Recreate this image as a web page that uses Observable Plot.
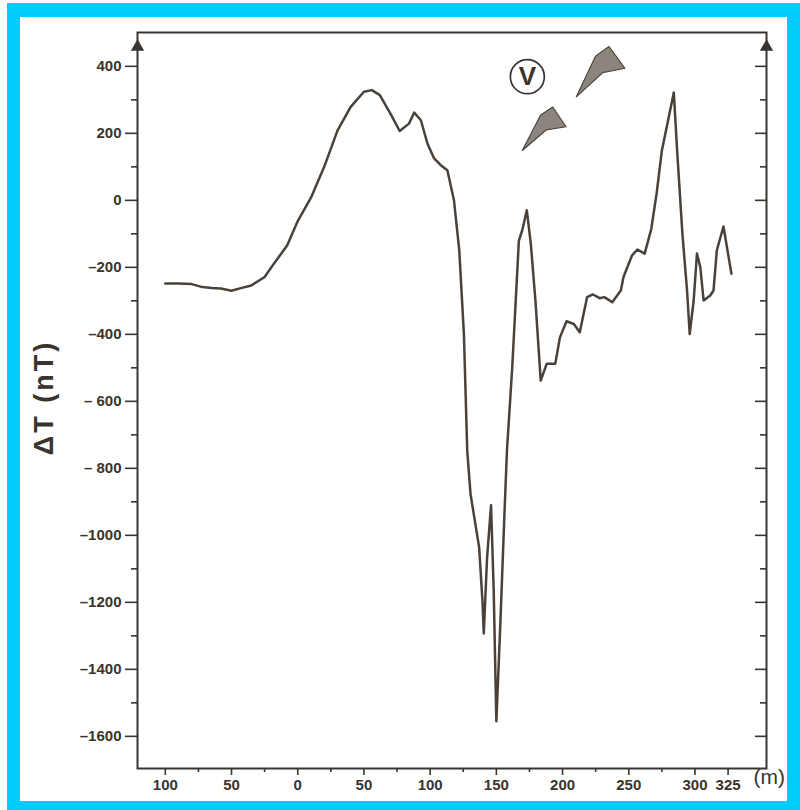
<!DOCTYPE html>
<html>
<head>
<meta charset="utf-8">
<script src="https://cdn.jsdelivr.net/npm/d3@7"></script>
<script src="https://cdn.jsdelivr.net/npm/@observablehq/plot@0.6"></script>
<style>
  html, body { margin: 0; padding: 0; background: #fff; }
  #wrap { position: relative; width: 800px; height: 810px; overflow: hidden; background: #fff; }
  #chart { position: absolute; left: 0; top: 0; }
  .band { position: absolute; background: #00cdfe; z-index: 2; }
</style>
</head>
<body>
<div id="wrap">
  <div id="chart"></div>
  <div class="band" style="left:7px;top:3px;width:793px;height:14px;"></div>
  <div class="band" style="left:7px;top:3px;width:13px;height:807px;"></div>
  <div class="band" style="left:7px;top:801px;width:793px;height:9px;"></div>
  <div class="band" style="left:787px;top:3px;width:13px;height:807px;"></div>
</div>
<script>
// ---- data ----
const dist = [-100, -90, -80, -72, -65, -58, -50, -43, -35, -25, -18, -8, 0, 10, 20, 30, 40, 50, 56, 62, 70, 77, 84, 88, 93, 98, 103, 108, 113, 118, 122, 125.5, 128, 130.5, 137, 139.5, 140.5, 143, 146, 148, 150, 153, 156, 158, 162, 167, 169.5, 173, 176, 179.5, 183.5, 188, 194.5, 198, 203, 208.5, 213, 218.5, 223, 228, 231.5, 237.5, 244, 246, 252.5, 256.5, 262, 267, 271, 275, 284, 286.5, 290.5, 294, 296, 299, 301.5, 304, 306.5, 311.5, 314, 316.5, 321.5, 327.5];
const deltaT = [-248, -248, -250, -259, -262, -263, -270, -262, -254, -229, -189, -135, -62, 8, 100, 208, 279, 324, 329, 314, 259, 207, 229, 262, 239, 169, 125, 105, 90, 0, -150, -400, -747, -877, -1036, -1196, -1293, -1066, -910, -1166, -1555, -1265, -947, -747, -498, -120, -90, -30, -129, -299, -538, -488, -488, -409, -361, -369, -394, -289, -281, -292, -289, -304, -269, -229, -164, -147, -159, -85, 20, 149, 322, 149, -100, -269, -399, -299, -159, -199, -299, -284, -269, -149, -78, -219];

const xTicks = [-100, -50, 0, 50, 100, 150, 200, 250, 300, 325];
const xTickLabels = ["100", "50", "0", "50", "100", "150", "200", "250", "300", "325"];
const xMinor = [-75, -25, 25, 75, 125, 175, 225, 275];
const yMajor = [400, 200, 0, -200, -400, -600, -800, -1000, -1200, -1400, -1600];
const yTickLabels = ["400", "200", "0", "\u2013200", "\u2013400", "\u2013 600", "\u2013 800", "\u20131000", "\u20131200", "\u20131400", "\u20131600"];
const yMinor = [300, 100, -100, -300, -500, -700, -900, -1100, -1300, -1500];

const xDomain = [-121, 354];
const yDomain = [-1696, 501];

const vLabel = [{x: 173.4, y: 369, text: "V"}];
const arrowUpper = [{x: 210.4, y: 309}];
const arrowLower = [{x: 169.6, y: 149}];
const axisArrowY = 458;

// ---- build ----
const profile = dist.map((d, i) => ({dist: d, dT: deltaT[i]}));
const ink = "#3a342e";
const lineColor = "#4a423a";
const font = "'Liberation Sans', Arial, sans-serif";

const spear = {
  draw(ctx, l, r) {
    ctx.moveTo(0, 0);
    ctx.lineTo(-0.1 * l, -0.74 * l);
    ctx.lineTo(0, -l);
    ctx.lineTo(0.42 * l, -0.84 * l);
    ctx.lineTo(0.15 * l, -0.58 * l);
    ctx.closePath();
  }
};
const arrowStyle = {anchor: "start", shape: spear, fill: "#8b857d", stroke: "#4e4740", strokeWidth: 1.2, strokeLinejoin: "round"};

const blank = () => "";

const chart = Plot.plot({
  width: 800,
  height: 810,
  marginLeft: 137,
  marginRight: 34,
  marginTop: 32,
  marginBottom: 42,
  x: {domain: xDomain},
  y: {domain: yDomain},
  style: {background: "transparent", fontFamily: font, color: ink},
  marks: [
    Plot.frame({stroke: ink, strokeWidth: 2}),
    Plot.axisY({ticks: yMajor, tickSize: 12, tickPadding: 4, strokeWidth: 1.6,
      tickFormat: d => yTickLabels[yMajor.indexOf(d)], fontSize: 15, fontWeight: "bold", fill: ink, label: null}),
    Plot.axisY({ticks: yMinor, tickSize: 6, strokeWidth: 1.6, tickFormat: blank, label: null}),
    Plot.axisY({anchor: "right", ticks: yMajor, tickSize: 12, dx: -12, strokeWidth: 1.6, tickFormat: blank, label: null}),
    Plot.axisY({anchor: "right", ticks: yMinor, tickSize: 7, dx: -7, strokeWidth: 1.6, tickFormat: blank, label: null}),
    Plot.axisX({ticks: xTicks, tickSize: 7, tickPadding: 4, strokeWidth: 1.6,
      tickFormat: d => xTickLabels[xTicks.indexOf(d)], fontSize: 15, fontWeight: "bold", fill: ink, label: null}),
    Plot.axisX({ticks: xMinor, tickSize: 4, strokeWidth: 1.6, tickFormat: blank, label: null}),
    Plot.dot([xDomain[0], xDomain[1]], {x: d => d, y: () => axisArrowY, symbol: "triangle", r: 4, fill: ink, stroke: ink}),
    Plot.line(profile, {x: "dist", y: "dT", stroke: lineColor, strokeWidth: 2.5, strokeLinejoin: "round"}),
    Plot.dot(vLabel, {x: "x", y: "y", r: 17, stroke: ink, strokeWidth: 1.7, fill: "none"}),
    Plot.text(vLabel, {x: "x", y: "y", text: "text", fontSize: 26, fontWeight: "bold", fill: ink}),
    Plot.vector(arrowUpper, {x: "x", y: "y", length: 60, rotate: 33, ...arrowStyle}),
    Plot.vector(arrowLower, {x: "x", y: "y", length: 53, rotate: 35, ...arrowStyle}),
    Plot.text(["\u0394T (nT)"], {frameAnchor: "left", textAnchor: "middle", rotate: -90, dx: -93, dy: -3, fontSize: 27, fontWeight: "bold", fill: ink, className: "ylab"}),
    Plot.text(["(m)"], {frameAnchor: "bottom-right", textAnchor: "start", dx: -13, dy: 15, fontSize: 21, fill: ink})
  ]
});
d3.select(chart).selectAll(".ylab text").style("letter-spacing", "3px");
document.getElementById("chart").appendChild(chart);
</script>
</body>
</html>
